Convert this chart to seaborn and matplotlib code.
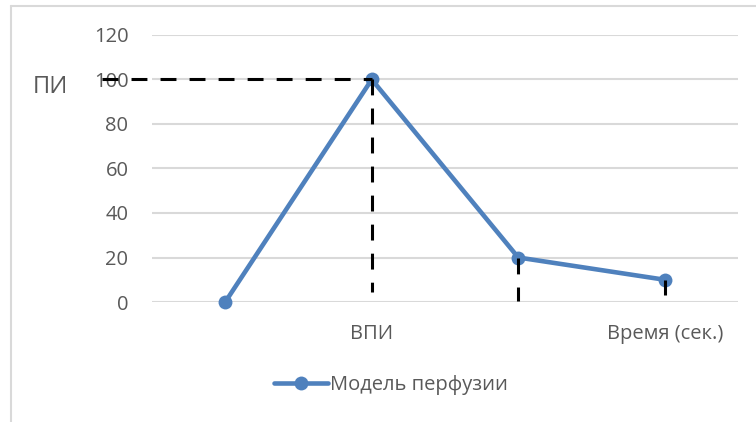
import matplotlib
matplotlib.use("Agg")
import matplotlib.pyplot as plt
from matplotlib.lines import Line2D
import seaborn as sns
import pandas as pd

# Perfusion model: index value at each time point
positions = [0, 1, 2, 3]
values = [0, 100, 20, 10]
x_labels = ["", "ВПИ", "", "Время (сек.)"]
y_ticks = [0, 20, 40, 60, 80, 100, 120]
series_name = "Модель перфузии"
y_title = "ПИ"

# Dashed guide lines: (x values, y values)
guide_h = ([-0.84, 1], [100, 100])
guide_v1 = ([1, 1], [100, 4.5])
guide_v2 = ([2, 2], [20, 0.3])
guide_v3 = ([3, 3], [10, 3])

sns.set_theme(style="white")
plt.rcParams["font.family"] = ["Open Sans", "DejaVu Sans"]

text_color = "#595959"
grid_color = "#d9d9d9"
line_color = "#4f81bd"

fig = plt.figure(figsize=(7.56, 4.22), dpi=100)
ax = fig.add_axes([152 / 756, 1 - 302 / 422, (738 - 152) / 756, (302 - 35) / 422])

df = pd.DataFrame({"x": positions, "y": values})
sns.lineplot(data=df, x="x", y="y", ax=ax, color=line_color, linewidth=3.3,
             marker="o", markersize=10, markeredgewidth=0,
             label=series_name, zorder=3)
for ln in ax.get_lines():
    ln.set_clip_on(False)

ax.set_xlim(-0.5, 3.5)
ax.set_ylim(0, 120)
ax.set_yticks(y_ticks)
ax.set_xticks(positions)
ax.set_xticklabels(x_labels)
ax.set_xlabel("")
ax.set_ylabel("")
ax.tick_params(axis="y", length=0, pad=17, labelsize=14.5, labelcolor=text_color)
ax.tick_params(axis="x", length=0, pad=16, labelsize=14.5, labelcolor=text_color)
for s in ax.spines.values():
    s.set_visible(False)
ax.yaxis.grid(True, color=grid_color, linewidth=1.5)
ax.set_axisbelow(True)

dash = (0, (5.2, 4.3))
for gx, gy in (guide_h, guide_v1, guide_v2, guide_v3):
    ax.plot(gx, gy, color="black", linewidth=2.2, linestyle=dash,
            zorder=5, clip_on=False)

fig.text(50 / 756, 1 - 87 / 422, y_title, fontsize=17, color=text_color,
         ha="center", va="center")

leg = ax.legend(loc="center", bbox_to_anchor=(391 / 756, 1 - 385 / 422),
                bbox_transform=fig.transFigure, frameon=False, fontsize=14.5,
                handlelength=2.7, handletextpad=0.1)
for t in leg.get_texts():
    t.set_color(text_color)

# Outer chart border (left and top edges)
fig.add_artist(Line2D([10.5 / 756, 10.5 / 756], [0, 1 - 5.5 / 422],
                      transform=fig.transFigure, color=grid_color, linewidth=1.5))
fig.add_artist(Line2D([10.5 / 756, 1], [1 - 5.5 / 422, 1 - 5.5 / 422],
                      transform=fig.transFigure, color=grid_color, linewidth=1.5))

fig.savefig("out.png", dpi=100)
